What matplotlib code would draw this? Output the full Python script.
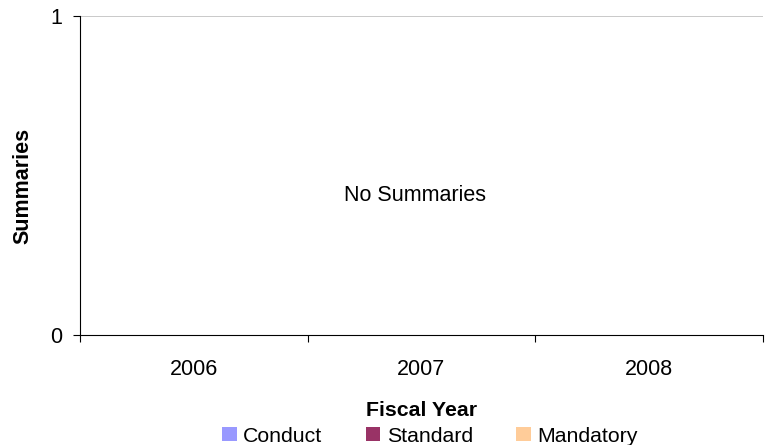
import numpy as np
import matplotlib
matplotlib.use("Agg")
import matplotlib.pyplot as plt

plt.rcParams['font.family'] = ['Liberation Sans', 'DejaVu Sans']

# data: no summaries recorded in any year
years = ['2006', '2007', '2008']
conduct = [0, 0, 0]
standard = [0, 0, 0]
mandatory = [0, 0, 0]

series = ['Conduct', 'Standard', 'Mandatory']
colori = ['#9999FF', '#993366', '#FFCC99']

fig = plt.figure(figsize=(7.65, 4.45), dpi=100)
ax = fig.add_axes([80/765, 1-335/445, 683/765, 319/445])

x = np.arange(len(years))
bottom = np.zeros(len(years))
handles = []
for vals, name, col in zip([conduct, standard, mandatory], series, colori):
    b = ax.bar(x, vals, 0.5, bottom=bottom, color=col, label=name, linewidth=0)
    bottom = bottom + np.array(vals)
    handles.append(b)

ax.set_xlim(-0.5, 2.5)
ax.set_ylim(0, 1)
ax.set_yticks([0, 1])
ax.set_xticks(x)
ax.set_xticklabels(years)
ax.set_xticks(np.arange(-0.5, 3, 1), minor=True)
ax.tick_params(axis='x', which='major', length=0, pad=17, labelsize=15.5)
ax.tick_params(axis='x', which='minor', length=5, width=0.8, direction='out')
ax.tick_params(axis='y', length=5, width=0.8, pad=8, labelsize=15.5)

ax.axhline(1, color='#C0C0C0', linewidth=1.2, zorder=0)
for s in ['top', 'right']:
    ax.spines[s].set_visible(False)
ax.spines['left'].set_linewidth(0.8)
ax.spines['bottom'].set_linewidth(0.8)

ax.text(0.49, 0.42, 'No Summaries', transform=ax.transAxes, ha='center',
        va='baseline', fontsize=15.5)

fig.text(23/765, 1-186/445, 'Summaries', rotation=90, ha='center', va='center',
         fontsize=15.5, fontweight='bold')
fig.text(422/765, 1-416/445, 'Fiscal Year', ha='center', va='baseline',
         fontsize=15.3, fontweight='bold')

fig.legend(handles=handles, loc='center', bbox_to_anchor=(430/765, 1-436/445),
           ncol=3, frameon=False, fontsize=15.3, handlelength=0.68,
           handleheight=0.68, handletextpad=0.3, columnspacing=2.05,
           borderpad=0, borderaxespad=0)

fig.savefig('out.png', dpi=100)
